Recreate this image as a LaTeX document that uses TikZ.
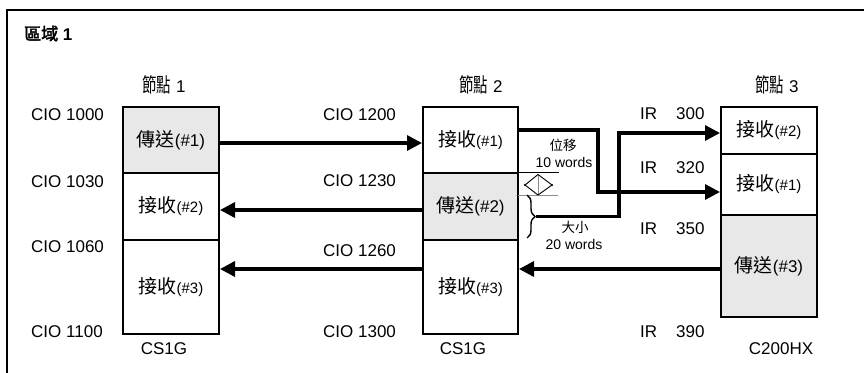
\documentclass[tikz,border=0pt]{standalone}
\usepackage{fontspec}
\setmainfont{Liberation Sans}
\newfontfamily\zhfont{Noto Sans CJK TC}
\newfontfamily\zhnarrow[FakeStretch=0.72]{Noto Sans CJK TC}
\newfontfamily\zhbold[FakeBold=2.5]{Noto Sans CJK TC}
\usetikzlibrary{arrows.meta,decorations.pathreplacing}
\newcommand\fsz[1]{\fontsize{#1}{#1}\selectfont}
\newcommand\sendtxt[1]{{\zhfont\fsz{19}傳送}{\fsz{17}(\##1)}}
\newcommand\recvtxt[1]{{\zhfont\fsz{19}接收}{\fsz{15}(\##1)}}
\begin{document}
\begin{tikzpicture}[x=1pt,y=-1pt,
  cell/.style={draw, line width=2pt, inner sep=0pt, anchor=center},
  sendcell/.style={cell, fill=black!9},
  lbl/.style={inner sep=0pt, anchor=base west, font=\fsz{17}},
  ttl/.style={inner sep=0pt, anchor=base, font=\fsz{17}},
  small/.style={inner sep=0pt, anchor=base, font=\fsz{14}},
  arr/.style={line width=3.3pt, line join=miter, -{Triangle[length=15pt,width=15pt]}},
  thinln/.style={line width=0.9pt}]
\clip (0,0) rectangle (864,372);
\fill[white] (0,0) rectangle (864,372);
% outer frame
\draw[line width=1.3pt] (7,420) -- (7,10) -- (920,10);
\node[inner sep=0pt, anchor=base west] (area) at (24,40) {{\zhbold\fsz{17}區域}{\fsz{17}\bfseries\ 1}};

% node titles
\node[ttl] (t1) at (164,92) {{\zhnarrow\fsz{20}節點} 1};
\node[ttl] (t2) at (481,92) {{\zhnarrow\fsz{20}節點} 2};
\node[ttl] (t3) at (777,92) {{\zhnarrow\fsz{20}節點} 3};

% node 1 cells
\node[sendcell, minimum width=96pt, minimum height=66pt] (n1a) at (171,140) {\sendtxt{1}};
\node[cell, minimum width=96pt, minimum height=67pt] (n1b) at (171,206.5) {\recvtxt{2}};
\node[cell, minimum width=96pt, minimum height=94pt] (n1c) at (171,287) {\recvtxt{3}};
% node 2 cells
\node[cell, minimum width=95pt, minimum height=66pt] (n2a) at (470.5,140) {\raisebox{3pt}{\recvtxt{1}}};
\node[sendcell, minimum width=95pt, minimum height=67pt] (n2b) at (470.5,206.5) {\sendtxt{2}};
\node[cell, minimum width=95pt, minimum height=94pt] (n2c) at (470.5,287) {\recvtxt{3}};
% node 3 cells
\node[cell, minimum width=96pt, minimum height=47pt] (n3a) at (769,130.5) {\recvtxt{2}};
\node[cell, minimum width=96pt, minimum height=61pt] (n3b) at (769,184.5) {\recvtxt{1}};
\node[sendcell, minimum width=96pt, minimum height=102pt] (n3c) at (769,266) {\raisebox{-4pt}{\sendtxt{3}}};

% address labels
\node[lbl] (a10) at (31,120) {CIO 1000};
\node[lbl] (a11) at (31,187) {CIO 1030};
\node[lbl] (a12) at (31,252) {CIO 1060};
\node[lbl] (a13) at (31,337) {CIO 1100};
\node[lbl] (a20) at (323,120) {CIO 1200};
\node[lbl] (a21) at (323,186) {CIO 1230};
\node[lbl] (a22) at (323,256) {CIO 1260};
\node[lbl] (a23) at (323,337) {CIO 1300};
\node[lbl] (a30) at (640,119) {IR\hspace{19pt}300};
\node[lbl] (a31) at (640,173) {IR\hspace{19pt}320};
\node[lbl] (a32) at (640,234) {IR\hspace{19pt}350};
\node[lbl] (a33) at (640,337) {IR\hspace{19pt}390};

% model labels
\node[ttl] (m1) at (164,354) {CS1G};
\node[ttl] (m2) at (463,354) {CS1G};
\node[ttl] (m3) at (781,354) {C200HX};

% offset / size marks
\draw[thinln] (n2b.north east) -- ++(40,0) coordinate (ofs1);
\draw[thinln, black!45] (518,195) -- (558,195) coordinate (ofs2);
\draw[thinln, black!45] (538,175) -- (538,195);
\draw[thinln] (525,185) -- (538,174.5) -- (552,185) -- (538,195) -- cycle;
\fill (525,185) circle (1.1pt) (552,185) circle (1.1pt);
\draw[decorate, decoration={brace, amplitude=8pt}, line width=1.4pt] (527,195) -- (527,238);
\coordinate (bt) at (536,216.5);

\node[small] (off1) at (563,150) {{\zhfont\fsz{13.5}位移}};
\node[small] (off2) at (564,167) {10 words};
\node[small] (sz1) at (575,232) {{\zhfont\fsz{13.5}大小}};
\node[small] (sz2) at (574,249) {20 words};

% connectors
\draw[arr] (n1a.east |- 0,143) -- (n2a.west |- 0,143);
\draw[arr] (n2b.west |- 0,210) -- (n1b.east |- 0,210);
\draw[arr] (n2c.west |- 0,269) -- (n1c.east |- 0,269);
\draw[arr] (n3c.west |- 0,269) -- (n2c.east |- 0,269);
\draw[arr] (n2a.east |- 0,130) -| (598,192) -- (n3b.west |- 0,192);
\draw[arr] (bt) -- (619,216.5) |- (n3a.west |- 0,133);
\end{tikzpicture}
\end{document}
